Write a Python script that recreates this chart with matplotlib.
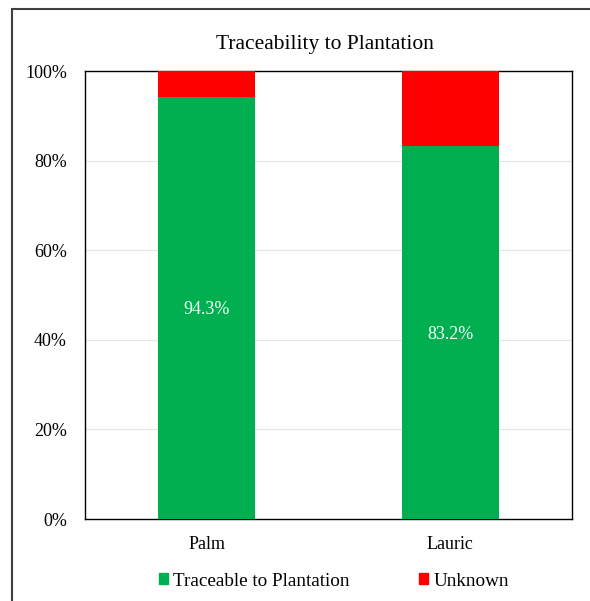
import matplotlib.pyplot as plt
from matplotlib.patches import Rectangle, Patch
import numpy as np

# Data
categories = ["Palm", "Lauric"]
traceable = [94.3, 83.2]
unknown = [5.7, 16.8]
series_names = ["Traceable to Plantation", "Unknown"]
yticks = [0, 20, 40, 60, 80, 100]

green = "#00B050"
red = "#FF0000"

plt.rcParams["font.family"] = ["Liberation Serif", "DejaVu Serif"]
serif = {"family": "Liberation Serif", "size": 13}

fig = plt.figure(figsize=(5.9, 6.01), dpi=100)
ax = fig.add_axes([85/590, 82/601, 487/590, 448/601])

x = np.arange(len(categories))
ax.bar(x, traceable, width=0.4, color=green, zorder=3)
ax.bar(x, unknown, width=0.4, bottom=traceable, color=red, zorder=3)

for xi, v in zip(x, traceable):
    ax.text(xi, v / 2 - 0.4, f"{v:.1f}%", ha="center", va="center",
            color="white", fontdict=serif, zorder=4)

ax.set_xlim(-0.5, 1.5)
ax.set_ylim(0, 100)
ax.set_yticks(yticks)
ax.set_yticklabels([f"{t}%" for t in yticks], fontdict=serif)
ax.set_xticks(x)
ax.set_xticklabels(categories, fontdict=serif)
ax.tick_params(length=0)
ax.tick_params(axis="x", pad=12)
ax.tick_params(axis="y", pad=13)
ax.grid(axis="y", color="#E6E6E6", linewidth=0.8, zorder=0)
for s in ax.spines.values():
    s.set_linewidth(1.0)
    s.set_color("black")

fig.text(325/590, 1 - 45/601, "Traceability to Plantation", ha="center",
         va="center", family="Liberation Serif", fontsize=15.5)

handles = [Patch(color=green), Patch(color=red)]
fig.legend(handles, series_names, loc="center", ncol=2,
           bbox_to_anchor=(334/590, 1 - 581/601), frameon=False,
           prop={"family": "Liberation Serif", "size": 13.8},
           handlelength=0.45, handleheight=0.5,
           handletextpad=0.3, columnspacing=3.6)

# outer chart border
fig.patches.append(Rectangle((12/590, -0.1), 1.1, 1 - 9/601 + 0.1,
                             transform=fig.transFigure, fill=False,
                             edgecolor="#404040", linewidth=1.5))

fig.savefig("out.png", dpi=100)
